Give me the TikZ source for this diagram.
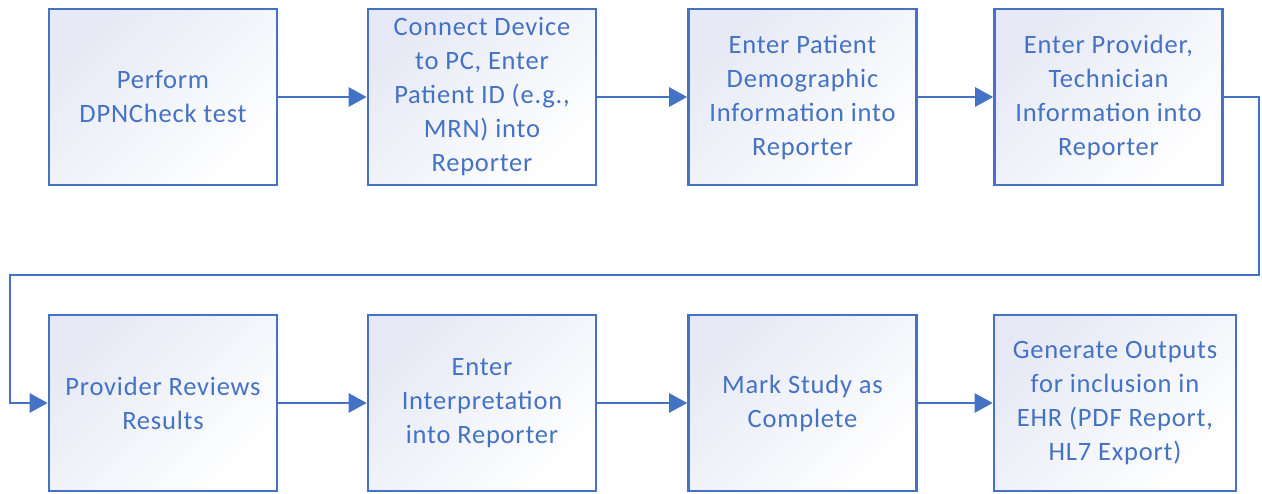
\documentclass[tikz,border=0pt]{standalone}
\usepackage{fontspec}
\setmainfont{Carlito}[LetterSpace=3]
\usetikzlibrary{arrows.meta}
\definecolor{bl}{HTML}{4472C4}
\definecolor{sh}{HTML}{E6E9F5}
\tikzset{
  stepbox/.style={draw=bl, line width=2.6pt, top color=sh, bottom color=white, shading angle=45,
    minimum width=228pt, minimum height=176pt, align=center, inner sep=0pt,
    text=bl, font=\fontsize{26.5pt}{34pt}\selectfont},
  conn/.style={draw=bl, line width=2.6pt, -{Triangle[length=18pt,width=19pt]}}
}
\begin{document}
\begin{tikzpicture}[x=1pt,y=-1pt]
\useasboundingbox (0,0) rectangle (1262,494);
\node[stepbox] (b1) at (163,97) {Perform\\DPNCheck test};
\node[stepbox] (b2) at (482,97) {Connect Device\\to PC, Enter\\Patient ID (e.g.,\\MRN) into\\Reporter};
\node[stepbox] (b3) at (802.5,97) {Enter Patient\\Demographic\\Information into\\Reporter};
\node[stepbox] (b4) at (1108.5,97) {Enter Provider,\\Technician\\Information into\\Reporter};
\node[stepbox] (b5) at (163,403) {Provider Reviews\\Results};
\node[stepbox] (b6) at (482,403) {Enter\\Interpretation\\into Reporter};
\node[stepbox] (b7) at (802.5,403) {Mark Study as\\Complete};
\node[stepbox, minimum width=242pt] (b8) at (1115,403) {Generate Outputs\\for inclusion in\\EHR (PDF Report,\\HL7 Export)};
\coordinate (c1) at (1259,275);
\coordinate (c2) at (10,275);
\draw[conn] (b1) -- (b2);
\draw[conn] (b2) -- (b3);
\draw[conn] (b3) -- (b4);
\draw[conn] (b4.east) -| (c1) -- (c2) |- (b5.west);
\draw[conn] (b5) -- (b6);
\draw[conn] (b6) -- (b7);
\draw[conn] (b7) -- (b8);
\end{tikzpicture}
\end{document}
